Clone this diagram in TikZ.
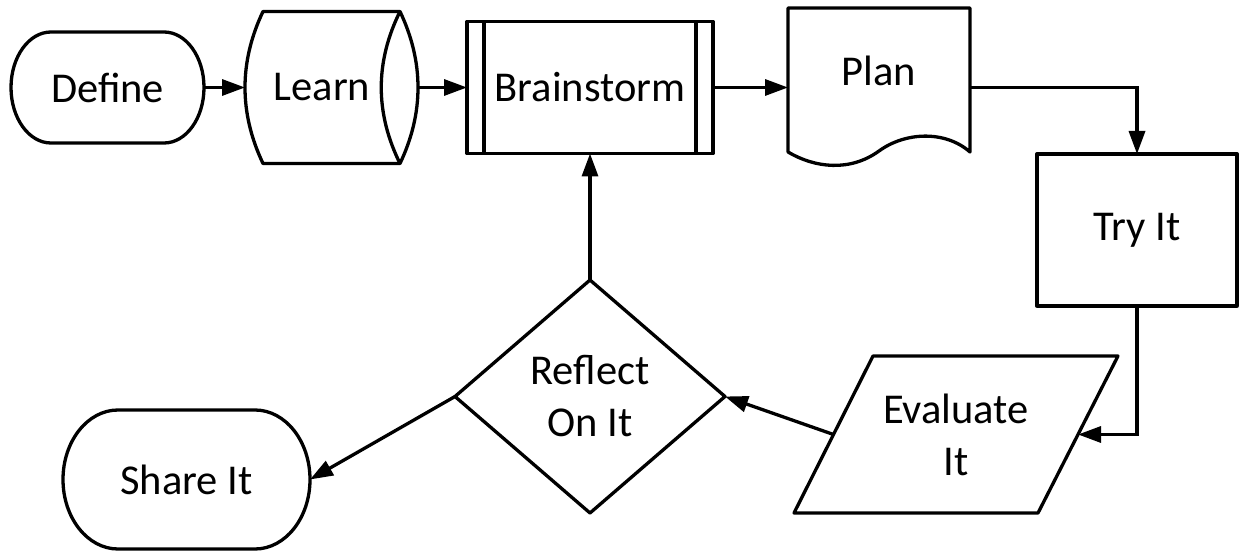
\documentclass[tikz,border=0pt]{standalone}
\usepackage{fontspec}
\setmainfont{Carlito}
\usepackage{tikz}
\usetikzlibrary{shapes.geometric}
\usetikzlibrary{arrows.meta}

\begin{document}
\begin{tikzpicture}[x=1pt,y=1pt,
  shapeLine/.style={draw=drawColor,line width=3.3pt,line join=round},
  boxNode/.style={inner sep=0pt,outer sep=0pt,align=center,text=drawColor,font=\fontsize{42.5}{52}\selectfont},
  flowArrow/.style={draw=drawColor,line width=3.3pt,-{Triangle[length=23pt,width=16pt]}}]
\definecolor{fillColor}{RGB}{255,255,255}
\definecolor{drawColor}{RGB}{0,0,0}
\path[use as bounding box,fill=fillColor] (0,0) rectangle (1239,552);

% top row
\path[shapeLine] (51,520) -- (164,520) arc[start angle=90,end angle=-90,x radius=40,y radius=55.5] --
	(51,409) arc[start angle=-90,end angle=-270,x radius=40,y radius=55.5] -- cycle;
\node[boxNode,minimum width=193,minimum height=111] (define) at (107.5,464.5) {Define};

\path[shapeLine] (263,540.5) -- (400,540.5) .. controls (424,490) and (424,439) .. (400,388.5) --
	(263,388.5) .. controls (239,439) and (239,490) .. (263,540.5) -- cycle;
\path[shapeLine] (400,540.5) .. controls (375,490) and (375,439) .. (400,388.5);
\node[boxNode,minimum width=173,minimum height=152] (learn) at (331.5,464.5) {Learn\hspace*{19pt}};

\node[boxNode,shapeLine,minimum width=246,minimum height=132] (brain) at (590,464.5) {Brainstorm};
\path[shapeLine] (484,530.5) -- (484,398.5);
\path[shapeLine] (696,530.5) -- (696,398.5);

\path[shapeLine] (788,400) -- (788,544) -- (970,544) -- (970,400) .. controls (945,422) and (905,420) ..
	(879,401) .. controls (850,380) and (815,384) .. (788,400) -- cycle;
\node[boxNode,minimum width=182,minimum height=159,text depth=34pt] (plan) at (879,464.5) {Plan};

% right column and bottom row
\node[boxNode,shapeLine,minimum width=200,minimum height=152] (try) at (1137,322) {Try It};

\path[shapeLine] (873,196) -- (1118,196) -- (1038,39) -- (794,39) -- cycle;
\node[boxNode,minimum width=324,minimum height=157] (eval) at (956,117.5) {Evaluate\\It};

\node[boxNode,shapeLine,shape=diamond,minimum width=270,minimum height=233] (reflect) at (590,155.5) {Reflect\\On It};

\path[shapeLine] (118,142) -- (255,142) arc[start angle=90,end angle=-90,x radius=55,y radius=69.5] --
	(118,3) arc[start angle=-90,end angle=-270,x radius=55,y radius=69.5] -- cycle;
\node[boxNode,minimum width=247,minimum height=139] (share) at (186.5,72.5) {Share It};

% connectors
\path[flowArrow] (define) -- (learn);
\path[flowArrow] (learn) -- (brain);
\path[flowArrow] (brain) -- (plan);
\path[flowArrow] (plan.east) -| (try.north);
\path[flowArrow] (try.south) |- ([xshift=-40]eval.east);
\path[flowArrow] ([xshift=39.5]eval.west) -- (reflect.east);
\path[flowArrow] (reflect.north) -- (brain.south);
\path[flowArrow] (reflect.west) -- (share.east);
\end{tikzpicture}
\end{document}
